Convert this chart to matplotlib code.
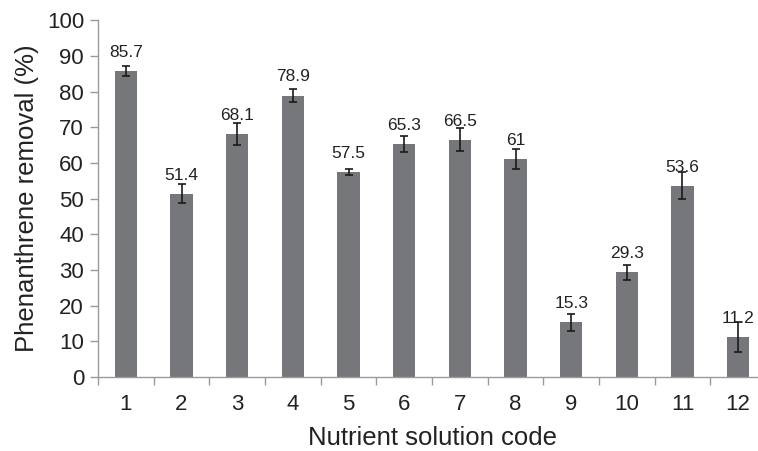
import matplotlib.pyplot as plt

plt.rcParams['font.family'] = ['Liberation Sans', 'DejaVu Sans']

codes = [1, 2, 3, 4, 5, 6, 7, 8, 9, 10, 11, 12]
removal = [85.7, 51.4, 68.1, 78.9, 57.5, 65.3, 66.5, 61, 15.3, 29.3, 53.6, 11.2]
errors = [1.4, 2.6, 3.0, 1.8, 0.8, 2.2, 3.2, 2.8, 2.4, 2.0, 3.8, 4.3]
labels = ["85.7", "51.4", "68.1", "78.9", "57.5", "65.3", "66.5", "61",
          "15.3", "29.3", "53.6", "11.2"]

fig = plt.figure(figsize=(7.58, 4.51), dpi=100)
ax = fig.add_axes([98 / 758, 1 - 377 / 451, 668 / 758, 356.7 / 451])

ax.bar(codes, removal, width=0.4, color="#76777b", zorder=2)
ax.errorbar(codes, removal, yerr=errors, fmt="none", ecolor="#1a1a1a",
            elinewidth=1.2, capsize=3, capthick=1.2, zorder=3)

for x, y, t in zip(codes, removal, labels):
    ax.annotate(t, (x, y), xytext=(0, 8), textcoords="offset points",
                ha="center", va="bottom", fontsize=12.5, color="#222222")

ax.set_xlim(0.5, 12.5)
ax.set_ylim(0, 100)
ax.set_yticks(range(0, 101, 10))

# category labels at centres, tick marks at the boundaries
ax.set_xticks(codes)
ax.set_xticklabels([str(c) for c in codes])
ax.tick_params(axis="x", which="major", length=0, pad=12, labelsize=16,
               colors="#222222")
ax.set_xticks([c + 0.5 for c in range(0, 12)], minor=True)
ax.tick_params(axis="x", which="minor", length=6, width=1, color="#9a9a9a")
ax.tick_params(axis="y", length=6, width=1, color="#9a9a9a", labelsize=16,
               labelcolor="#222222", pad=4)

for s in ["top", "right"]:
    ax.spines[s].set_visible(False)
for s in ["left", "bottom"]:
    ax.spines[s].set_color("#9a9a9a")
    ax.spines[s].set_linewidth(1)

ax.set_xlabel("Nutrient solution code", fontsize=18.5, color="#222222", labelpad=8)
ax.set_ylabel("Phenanthrene removal (%)", fontsize=18.5, color="#222222", labelpad=6)

fig.savefig("out.png", dpi=100)
